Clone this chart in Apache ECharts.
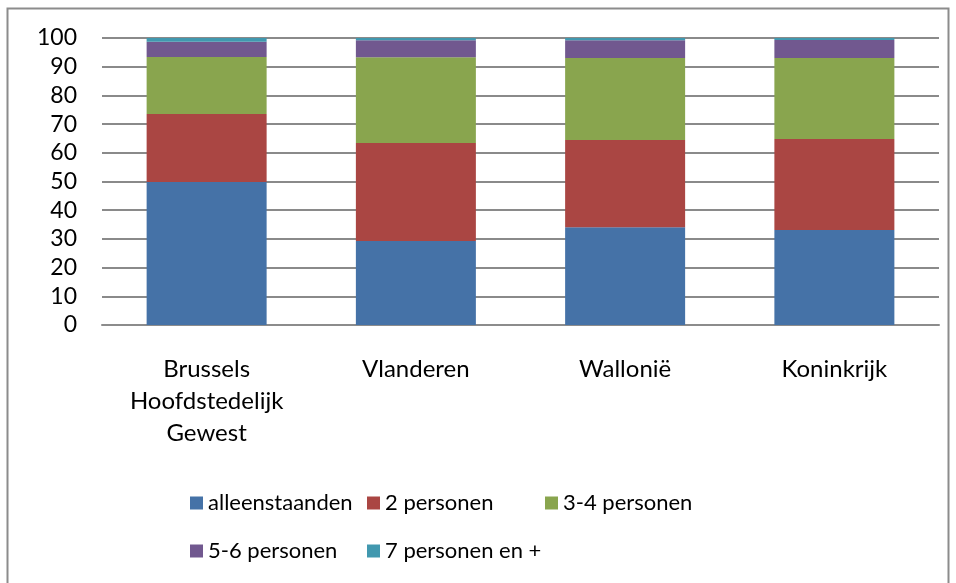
<!DOCTYPE html>
<html>
<head>
<meta charset="utf-8">
<script src="https://cdn.jsdelivr.net/npm/echarts@6/dist/echarts.min.js"></script>
<style>
  html, body { margin: 0; padding: 0; background: #fff; }
  #chart { width: 956px; height: 583px; }
</style>
</head>
<body>
<div id="chart"></div>
<script>
// Huishoudens naar grootte (%)
const categories = ['Brussels\nHoofdstedelijk\nGewest', 'Vlanderen', 'Wallonië', 'Koninkrijk'];
const seriesNames = ['alleenstaanden', '2 personen', '3-4 personen', '5-6 personen', '7 personen en +'];
const alleenstaanden = [49.8, 29.3, 34.1, 33.1];
const tweePersonen = [23.7, 34.1, 30.4, 31.7];
const drieVierPersonen = [19.9, 29.9, 28.5, 28.2];
const vijfZesPersonen = [5.3, 5.9, 6.2, 6.3];
const zevenPlus = [1.3, 0.8, 0.8, 0.7];
const yTicks = [0, 10, 20, 30, 40, 50, 60, 70, 80, 90, 100];

const colors = ['#4572A7', '#AA4643', '#89A54E', '#71588F', '#4198AF'];
const values = [alleenstaanden, tweePersonen, drieVierPersonen, vijfZesPersonen, zevenPlus];
const font = 'Lato, "Noto Sans", sans-serif';

// legend slots (left, top) - laid out like a two-row table
const legendPos = [[190, 492], [367, 492], [545, 492], [190, 540], [367, 540]];

const chart = echarts.init(document.getElementById('chart'));

chart.setOption({
  animation: false,
  color: colors,
  graphic: [{
    type: 'rect',
    shape: { x: 7.5, y: 8.5, width: 941, height: 620 },
    style: { fill: 'none', stroke: '#8c8c8c', lineWidth: 2 },
    silent: true
  }],
  grid: { left: 102, right: 17, top: 38, bottom: 258, containLabel: false },
  legend: seriesNames.map((name, i) => ({
    left: legendPos[i][0],
    top: legendPos[i][1],
    padding: 0,
    data: [name],
    itemWidth: 13,
    itemHeight: 13,
    itemGap: 0,
    icon: 'rect',
    selectedMode: false,
    textStyle: { fontFamily: font, fontSize: 22, color: '#000' }
  })),
  xAxis: {
    type: 'category',
    data: categories,
    axisLine: { show: true, lineStyle: { color: '#8c8c8c', width: 2 } },
    axisTick: { show: false },
    axisLabel: { fontFamily: font, fontSize: 24, color: '#000', lineHeight: 32, margin: 28, interval: 0 }
  },
  yAxis: {
    type: 'value',
    min: yTicks[0],
    max: yTicks[yTicks.length - 1],
    interval: 10,
    axisLine: { show: false },
    axisTick: { show: false },
    splitLine: { lineStyle: { color: '#8a8a8a', width: 2 } },
    axisLabel: { fontFamily: font, fontSize: 23, color: '#000', margin: 25 }
  },
  series: seriesNames.map((name, i) => ({
    name: name,
    type: 'bar',
    stack: 'total',
    barWidth: 120,
    data: values[i],
    itemStyle: { color: colors[i] }
  }))
});
</script>
</body>
</html>
